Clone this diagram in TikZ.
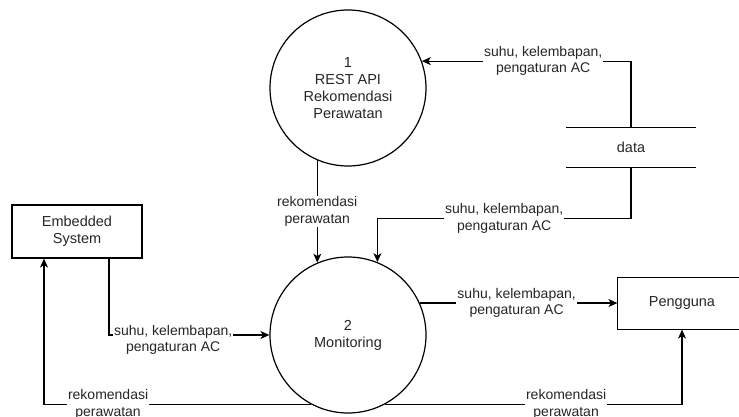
\documentclass[tikz,border=0pt]{standalone}
\usepackage{fontspec}
\setmainfont{Liberation Sans}
\usetikzlibrary{arrows.meta}
\usetikzlibrary{positioning}

\tikzset{
process/.style={circle,draw=black,line width=1.2pt,minimum size=156pt,inner sep=0pt,align=center,text=black!85},
entity/.style={rectangle,draw=black,line width=1.2pt,minimum width=130pt,minimum height=53pt,align=center,text=black!85},
flow/.style={line width=1.2pt,-{Stealth[length=9pt,width=8pt,inset=2.5pt]}},
lbl/.style={fill=white,align=center,inner sep=1pt,text=black!85,font=\fontsize{14}{16.5}\selectfont}
}

\begin{document}
\begin{tikzpicture}[x=1pt,y=-1pt,font=\fontsize{14.5}{17}\selectfont]
\useasboundingbox (0,0) rectangle (739,417);
\node[process](rest) at (348,88){1\\REST API\\Rekomendasi\\Perawatan};
\node[process](mon) at (348,335){2\\Monitoring};
\node[minimum width=130pt,minimum height=39pt,text=black!85](data) at (631,147.5){data};
\node[entity](emb) at (77,231.5){Embedded\\System};
\node[entity,minimum width=128pt,minimum height=51pt,draw=none](user) at (682,303.5){Pengguna};
\draw[line width=1.2pt] (data.north west) -- (data.north east);
\draw[line width=1.2pt] (data.south west) -- (data.south east);
% user box runs past the right edge
\draw[line width=1.2pt] ([xshift=30pt]user.north east) -- (user.north west) -- (user.south west) -- ([xshift=30pt]user.south east);
% data flows
\draw[flow] (data.north) |- (rest.20) node[lbl,pos=0.71]{suhu, kelembapan,\\pengaturan AC};
\draw[flow] (data.south) -- ++(0,51) -| (mon.68) node[lbl,pos=0.25]{suhu, kelembapan,\\pengaturan AC};
\draw[flow] (rest.-113) -- (mon.113) node[lbl,midway]{rekomendasi\\perawatan};
\draw[flow] ([xshift=32pt]emb.south) |- (mon.west) node[lbl,pos=0.7,yshift=-5pt]{suhu, kelembapan,\\pengaturan AC};
\draw[flow] (mon.24) -- (mon.24 -| user.west) node[lbl,pos=0.49]{suhu, kelembapan,\\pengaturan AC};
\draw[flow] (mon.242) -| ([xshift=-33pt]emb.south) node[lbl,pos=0.38]{rekomendasi\\perawatan};
\draw[flow] (mon.298) -| (user.south) node[lbl,pos=0.305]{rekomendasi\\perawatan};
\end{tikzpicture}
\end{document}
